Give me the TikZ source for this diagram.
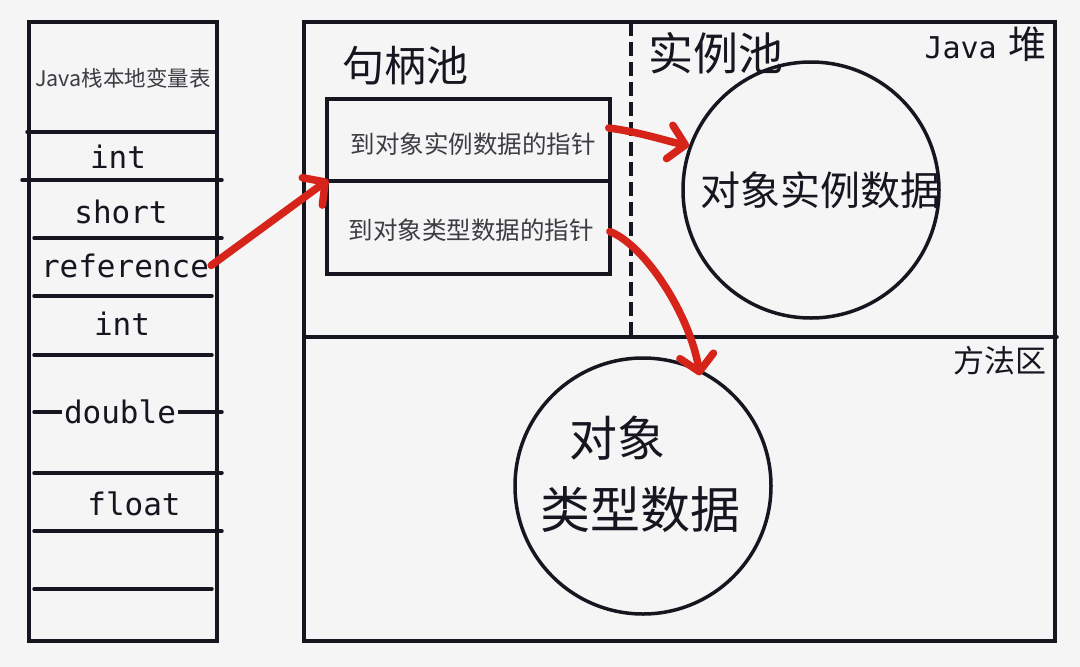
\documentclass[tikz,border=0pt]{standalone}
\usepackage{fontspec}
\setmainfont{Noto Sans CJK SC}
\newfontfamily\cjk{Noto Sans CJK SC}
\newfontfamily\hand{DejaVu Sans Mono}
\usetikzlibrary{arrows.meta}
\definecolor{bg}{RGB}{245,245,245}
\definecolor{ink}{RGB}{22,22,32}
\definecolor{soft}{RGB}{60,60,66}
\definecolor{redink}{RGB}{214,36,26}
\begin{document}
\begin{tikzpicture}[x=1pt,y=-1pt,
  inkline/.style={draw=ink,line width=3.5pt,line cap=round},
  boxnode/.style={draw=ink,line width=3.5pt,rectangle,inner sep=0pt},
  ringnode/.style={draw=ink,line width=3.5pt,circle,inner sep=0pt,minimum size=256pt},
  slotlabel/.style={font=\hand\fontsize{31}{31}\selectfont,text=ink,inner sep=0pt,anchor=base},
  cjklabel/.style={text=ink,inner sep=0pt},
  redarrow/.style={draw=redink,line width=7.5pt,line cap=round,line join=round,
    -{Straight Barb[length=16pt,width=34pt,line cap=round,line join=round]}}]
\fill[bg] (0,0) rectangle (1080,667);
\useasboundingbox (0,0) rectangle (1080,667);

% ---- Java stack local variable table ----
\node[boxnode,minimum width=188pt,minimum height=619pt] (stack) at (123,331.5) {};
\draw[inkline] (27,132) -- (217,132);
\draw[inkline] (22,180) -- (222,180);
\draw[inkline] (34,238) -- (222,238);
\draw[inkline] (34,296) -- (212,296);
\draw[inkline] (34,355) -- (212,355);
\draw[inkline] (34,412) -- (222,412);
\draw[inkline] (34,473) -- (222,473);
\draw[inkline] (34,531) -- (222,531);
\draw[inkline] (34,589) -- (212,589);

\node[cjklabel,text=soft,font=\cjk\fontsize{21.5}{21.5}\selectfont] (title) at (123,78) {Java栈本地变量表};
\node[slotlabel] (int1) at (118,168) {int};
\node[slotlabel] (short) at (121,223) {short};
\node[slotlabel] (ref) at (125,277) {reference};
\node[slotlabel] (int2) at (122,335) {int};
\node[slotlabel,fill=bg,inner xsep=2pt] (double) at (120,423) {double};
\node[slotlabel] (float) at (134,515) {float};

% ---- Java heap / method area ----
\node[boxnode,minimum width=751pt,minimum height=619pt] (heap) at (679.5,331.5) {};
\draw[inkline] (304,337) -- (1057,337);
\draw[draw=ink,line width=3.5pt,dash pattern=on 14pt off 6pt] (631,22) -- (631,337);

\node[cjklabel,font=\cjk\fontsize{42}{42}\selectfont] (pool) at (405,66) {句柄池};
\node[cjklabel,font=\cjk\fontsize{45}{45}\selectfont] (ipool) at (716,53) {实例池};
\node[cjklabel,anchor=base east] (heaplabel) at (1047,58) {{\hand\fontsize{30}{30}\selectfont Java}\hspace{12pt}{\cjk\fontsize{38}{38}\selectfont 堆}};
\node[cjklabel,font=\cjk\fontsize{31}{31}\selectfont] (method) at (1000,361) {方法区};

\node[boxnode,minimum width=283pt,minimum height=82pt] (inst) at (468.5,140) {};
\node[boxnode,minimum width=283pt,minimum height=93pt] (type) at (468.5,227.5) {};
\node[cjklabel,text=soft,font=\cjk\fontsize{24.5}{24.5}\selectfont] (insttext) at (473,144) {到对象实例数据的指针};
\node[cjklabel,text=soft,font=\cjk\fontsize{24.5}{24.5}\selectfont] (typetext) at (471,230) {到对象类型数据的指针};

\node[ringnode] (objc) at (811,190) {};
\node[cjklabel,font=\cjk\fontsize{40}{40}\selectfont] (objtext) at (820,190) {对象实例数据};
\node[ringnode] (typec) at (643,486) {};
\node[cjklabel,font=\cjk\fontsize{48}{48}\selectfont] (typetext1) at (617,438) {对象};
\node[cjklabel,font=\cjk\fontsize{50}{50}\selectfont] (typetext2) at (640,510) {类型数据};

% ---- red pointers ----
\draw[redarrow] ([xshift=2pt]ref.east) -- ([xshift=3pt,yshift=3pt]inst.south west);
\draw[redarrow] ([xshift=-3pt,yshift=12pt]inst.east) .. controls (640,132) and (670,142) .. (objc.160);
\draw[redarrow] ([xshift=-2pt,yshift=-4pt]type.east) .. controls (645,245) and (690,315) .. ([yshift=-6pt]typec.64);
\end{tikzpicture}
\end{document}
